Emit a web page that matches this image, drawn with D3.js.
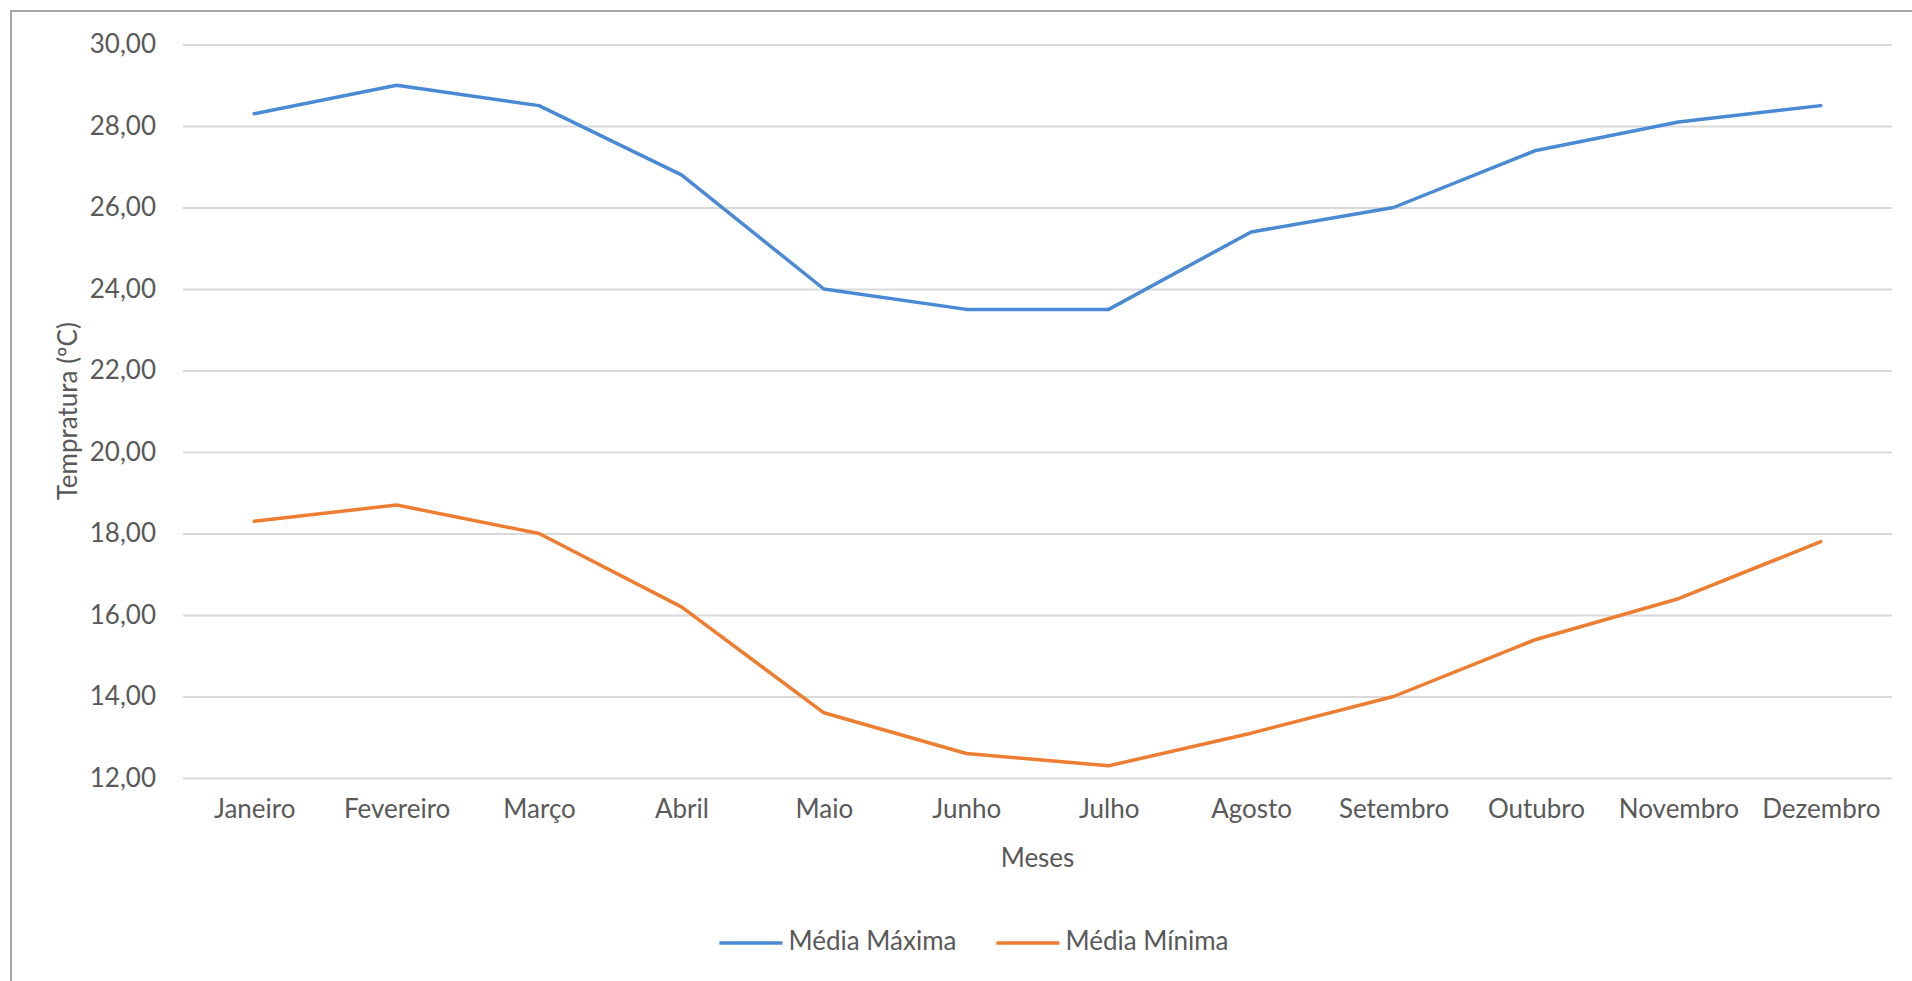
<!DOCTYPE html>
<html>
<head>
<meta charset="utf-8">
<script src="https://cdn.jsdelivr.net/npm/d3@7"></script>
<style>
  html, body { margin: 0; padding: 0; background: #ffffff; }
  svg { display: block; }
  text { font-family: Lato, "Open Sans", sans-serif; fill: #595959; }
</style>
</head>
<body>
<svg id="chart" width="1912" height="981"></svg>
<script>
// Monthly mean temperatures (ºC)
const months = ["Janeiro", "Fevereiro", "Março", "Abril", "Maio", "Junho",
                "Julho", "Agosto", "Setembro", "Outubro", "Novembro", "Dezembro"];
const mediaMaxima = [28.3, 29.0, 28.5, 26.8, 24.0, 23.5, 23.5, 25.4, 26.0, 27.4, 28.1, 28.5];
const mediaMinima = [18.3, 18.7, 18.0, 16.2, 13.6, 12.6, 12.3, 13.1, 14.0, 15.4, 16.4, 17.8];
const yTicks = [12, 14, 16, 18, 20, 22, 24, 26, 28, 30];
const seriesNames = ["Média Máxima", "Média Mínima"];
const seriesColors = ["#4a8ad4", "#ed7d31"];

const svg = d3.select("#chart");
const fontSize = 26;

// chart area frame
svg.append("rect")
  .attr("x", 11).attr("y", 11)
  .attr("width", 1940).attr("height", 1000)
  .attr("fill", "#ffffff")
  .attr("stroke", "#8c8c8c").attr("stroke-width", 1.5);

const plot = { left: 183, right: 1892, top: 44.5, bottom: 778 };

const x = d3.scalePoint().domain(months).range([plot.left, plot.right]).padding(0.5);
const y = d3.scaleLinear().domain([12, 30]).range([plot.bottom, plot.top]);

const fmt = v => d3.format(".2f")(v).replace(".", ",");

// horizontal gridlines + tick labels
const yAxis = d3.axisLeft(y).tickValues(yTicks).tickFormat(fmt)
  .tickSize(-(plot.right - plot.left)).tickPadding(27);
const gy = svg.append("g").attr("transform", `translate(${plot.left},0)`).call(yAxis);
gy.select(".domain").remove();
gy.selectAll(".tick line").attr("stroke", "#d9d9d9").attr("stroke-width", 2);
gy.selectAll(".tick text").style("font-size", fontSize + "px").attr("fill", "#595959");

// category labels
const xAxis = d3.axisBottom(x).tickSize(0).tickPadding(22);
const gx = svg.append("g").attr("transform", `translate(0,${plot.bottom})`).call(xAxis);
gx.select(".domain").remove();
gx.selectAll(".tick text").style("font-size", fontSize + "px").attr("fill", "#595959");

// axis titles
svg.append("text")
  .attr("x", (plot.left + plot.right) / 2).attr("y", 860)
  .attr("text-anchor", "middle").attr("dominant-baseline", "middle")
  .style("font-size", fontSize + "px")
  .text("Meses");

svg.append("text")
  .attr("transform", `translate(70,${(plot.top + plot.bottom) / 2}) rotate(-90)`)
  .attr("text-anchor", "middle").attr("dominant-baseline", "middle")
  .style("font-size", fontSize + "px")
  .text("Tempratura (ºC)");

// series lines
const line = d3.line().x((d, i) => x(months[i])).y(d => y(d));
[mediaMaxima, mediaMinima].forEach((vals, k) => {
  svg.append("path")
    .datum(vals)
    .attr("d", line)
    .attr("fill", "none")
    .attr("stroke", seriesColors[k])
    .attr("stroke-width", 3.5)
    .attr("stroke-linejoin", "round")
    .attr("stroke-linecap", "round");
});

// legend
const legend = svg.append("g");
let lx = 0;
seriesNames.forEach((name, k) => {
  const g = legend.append("g").attr("transform", `translate(${lx},0)`);
  g.append("line").attr("x1", 0).attr("x2", 63).attr("y1", 0).attr("y2", 0)
    .attr("stroke", seriesColors[k]).attr("stroke-width", 3.5);
  const t = g.append("text").attr("x", 69).attr("y", 0)
    .attr("dominant-baseline", "middle")
    .style("font-size", fontSize + "px")
    .text(name);
  lx += 69 + t.node().getComputedTextLength() + 40;
});
const legendWidth = lx - 40;
legend.attr("transform", `translate(${974 - legendWidth / 2},943)`);
</script>
</body>
</html>
